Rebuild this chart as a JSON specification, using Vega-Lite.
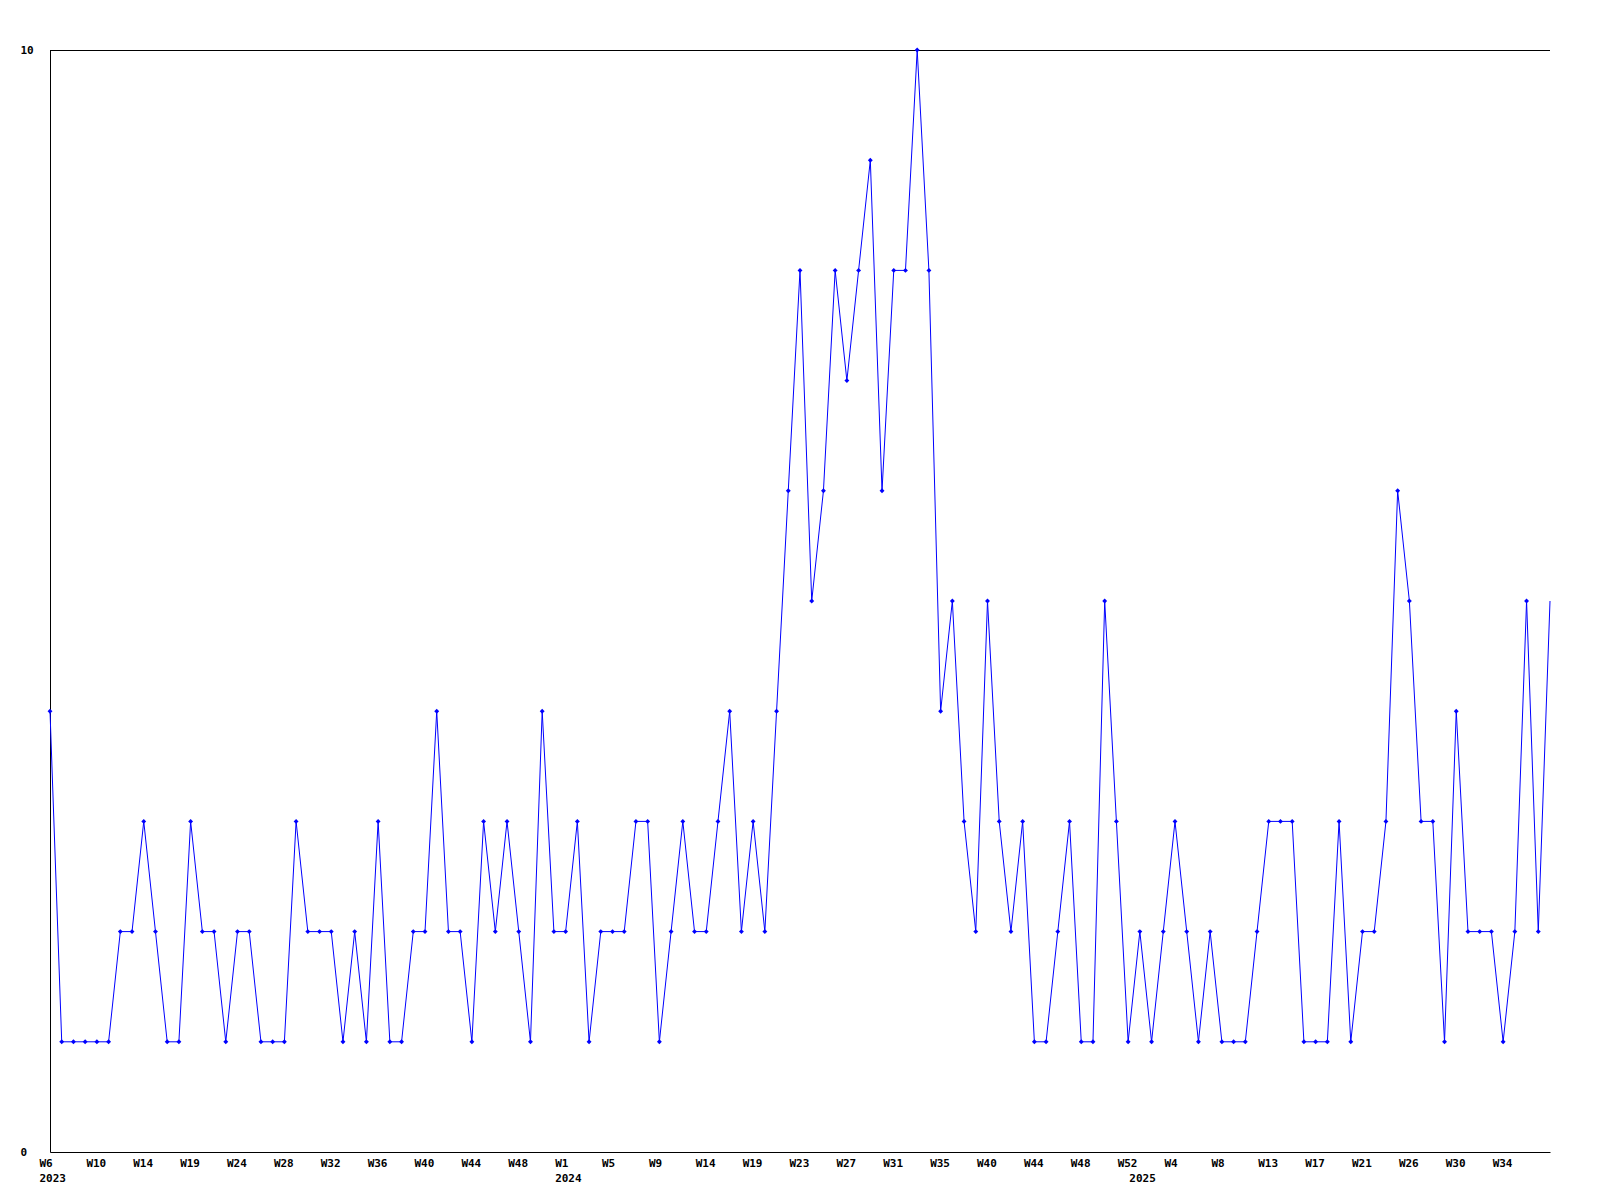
{
  "$schema": "https://vega.github.io/schema/vega-lite/v6.json",
  "width": 1500,
  "height": 1102,
  "autosize": {"type": "none"},
  "padding": {"left": 50, "top": 50, "right": 50, "bottom": 48},
  "background": "white",
  "config": {"view": {"stroke": null}},
  "data": {"values": [
    {"i":0,"v":4},{"i":1,"v":1},{"i":2,"v":1},{"i":3,"v":1},{"i":4,"v":1},{"i":5,"v":1},{"i":6,"v":2},{"i":7,"v":2},{"i":8,"v":3},{"i":9,"v":2},
    {"i":10,"v":1},{"i":11,"v":1},{"i":12,"v":3},{"i":13,"v":2},{"i":14,"v":2},{"i":15,"v":1},{"i":16,"v":2},{"i":17,"v":2},{"i":18,"v":1},{"i":19,"v":1},
    {"i":20,"v":1},{"i":21,"v":3},{"i":22,"v":2},{"i":23,"v":2},{"i":24,"v":2},{"i":25,"v":1},{"i":26,"v":2},{"i":27,"v":1},{"i":28,"v":3},{"i":29,"v":1},
    {"i":30,"v":1},{"i":31,"v":2},{"i":32,"v":2},{"i":33,"v":4},{"i":34,"v":2},{"i":35,"v":2},{"i":36,"v":1},{"i":37,"v":3},{"i":38,"v":2},{"i":39,"v":3},
    {"i":40,"v":2},{"i":41,"v":1},{"i":42,"v":4},{"i":43,"v":2},{"i":44,"v":2},{"i":45,"v":3},{"i":46,"v":1},{"i":47,"v":2},{"i":48,"v":2},{"i":49,"v":2},
    {"i":50,"v":3},{"i":51,"v":3},{"i":52,"v":1},{"i":53,"v":2},{"i":54,"v":3},{"i":55,"v":2},{"i":56,"v":2},{"i":57,"v":3},{"i":58,"v":4},{"i":59,"v":2},
    {"i":60,"v":3},{"i":61,"v":2},{"i":62,"v":4},{"i":63,"v":6},{"i":64,"v":8},{"i":65,"v":5},{"i":66,"v":6},{"i":67,"v":8},{"i":68,"v":7},{"i":69,"v":8},
    {"i":70,"v":9},{"i":71,"v":6},{"i":72,"v":8},{"i":73,"v":8},{"i":74,"v":10},{"i":75,"v":8},{"i":76,"v":4},{"i":77,"v":5},{"i":78,"v":3},{"i":79,"v":2},
    {"i":80,"v":5},{"i":81,"v":3},{"i":82,"v":2},{"i":83,"v":3},{"i":84,"v":1},{"i":85,"v":1},{"i":86,"v":2},{"i":87,"v":3},{"i":88,"v":1},{"i":89,"v":1},
    {"i":90,"v":5},{"i":91,"v":3},{"i":92,"v":1},{"i":93,"v":2},{"i":94,"v":1},{"i":95,"v":2},{"i":96,"v":3},{"i":97,"v":2},{"i":98,"v":1},{"i":99,"v":2},
    {"i":100,"v":1},{"i":101,"v":1},{"i":102,"v":1},{"i":103,"v":2},{"i":104,"v":3},{"i":105,"v":3},{"i":106,"v":3},{"i":107,"v":1},{"i":108,"v":1},{"i":109,"v":1},
    {"i":110,"v":3},{"i":111,"v":1},{"i":112,"v":2},{"i":113,"v":2},{"i":114,"v":3},{"i":115,"v":6},{"i":116,"v":5},{"i":117,"v":3},{"i":118,"v":3},{"i":119,"v":1},
    {"i":120,"v":4},{"i":121,"v":2},{"i":122,"v":2},{"i":123,"v":2},{"i":124,"v":1},{"i":125,"v":2},{"i":126,"v":5},{"i":127,"v":2},{"i":128,"v":5}
  ]},
  "encoding": {
    "x": {
      "field": "i", "type": "quantitative",
      "scale": {"domain": [0, 128], "nice": false, "zero": false},
      "axis": {
        "title": null, "grid": false, "ticks": false, "tickSize": 0,
        "domainColor": "black", "domainWidth": 1,
        "values": [0,4,8,12,16,20,24,28,32,36,40,44,48,52,56,60,64,68,72,76,80,84,88,92,93,96,100,104,108,112,116,120,124],
        "labelExpr": "datum.value == 0 ? ['W6','2023'] : datum.value == 44 ? ['W1','2024'] : datum.value == 93 ? ['','2025'] : ['W6','W10','W14','W19','W24','W28','W32','W36','W40','W44','W48','W1','W5','W9','W14','W19','W23','W27','W31','W35','W40','W44','W48','W52','','W4','W8','W13','W17','W21','W26','W30','W34'][indexof([0,4,8,12,16,20,24,28,32,36,40,44,48,52,56,60,64,68,72,76,80,84,88,92,93,96,100,104,108,112,116,120,124], datum.value)]",
        "labelAlign": "left", "labelBaseline": "top", "labelOffset": -11, "labelPadding": 5,
        "labelLineHeight": 15, "labelOverlap": false, "labelBound": false, "labelFlush": false,
        "labelFont": "DejaVu Sans Mono", "labelFontWeight": "bold", "labelFontSize": 11, "labelColor": "black"
      }
    },
    "y": {
      "field": "v", "type": "quantitative",
      "scale": {"domain": [0, 10], "nice": false},
      "axis": {
        "title": null, "grid": false, "ticks": false, "tickSize": 0,
        "domainColor": "black", "domainWidth": 1,
        "values": [0, 10],
        "labelAlign": "left", "labelPadding": 30, "labelOverlap": false, "labelBound": false, "labelFlush": false,
        "labelFont": "DejaVu Sans Mono", "labelFontWeight": "bold", "labelFontSize": 11, "labelColor": "black"
      }
    }
  },
  "layer": [
    {"mark": {"type": "rule", "color": "black", "strokeWidth": 1, "yOffset": 0.5}, "encoding": {"y": {"datum": 10}, "x": null}},
    {"mark": {"type": "line", "color": "#0000ff", "strokeWidth": 1}},
    {"transform": [{"filter": "datum.i < 128"}], "mark": {"type": "point", "shape": "diamond", "filled": true, "color": "#0000ff", "size": 24, "opacity": 1}}
  ]
}
